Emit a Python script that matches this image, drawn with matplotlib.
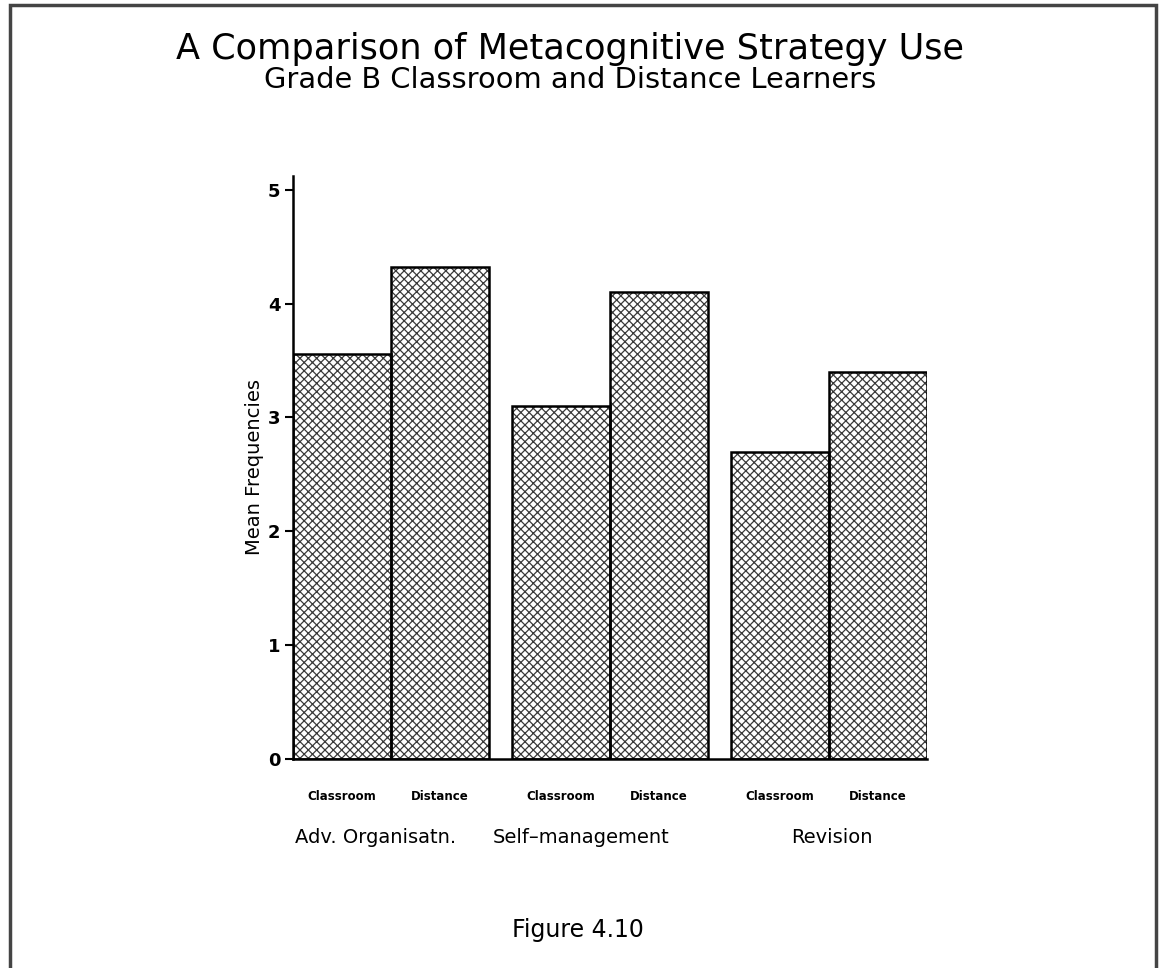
import numpy as np
import matplotlib.pyplot as plt
from matplotlib.patches import Rectangle

# values
groups = ["Adv. Organisatn.", "Self\u2013management", "Revision"]
learners = ["Classroom", "Distance"]
classroom = [3.56, 3.10, 2.70]
distance = [4.32, 4.10, 3.40]
yticks = [0, 1, 2, 3, 4, 5]

plt.rcParams["font.family"] = ["DejaVu Sans"]
plt.rcParams["hatch.linewidth"] = 0.9


def main():
    fig = plt.figure(figsize=(11.63, 9.68), dpi=100)
    ax = fig.add_axes([0.2519, 0.2159, 0.5453, 0.6023])

    x = np.arange(len(groups))
    w = 0.447
    pos = [x - w / 2, x + w / 2]
    for p, vals in zip(pos, [classroom, distance]):
        # hatched fill in grey, then a black outline on top
        ax.bar(p, vals, width=w, color="white", edgecolor="#3a3a3a",
               hatch="xxxx", linewidth=0, zorder=2)
        ax.bar(p, vals, width=w, fill=False, edgecolor="black",
               linewidth=1.8, zorder=3)

    ax.set_xlim(-w, len(groups) - 1 + w)
    ax.set_ylim(0, 5.12)
    ax.set_yticks(yticks)
    ax.set_yticklabels([str(t) for t in yticks], fontsize=13, fontweight="bold")
    ax.tick_params(axis="y", direction="out", length=6, width=1.5, pad=3)
    ax.set_xticks([])
    for s in ["top", "right"]:
        ax.spines[s].set_visible(False)
    ax.spines["left"].set_linewidth(1.8)
    ax.spines["bottom"].set_linewidth(1.8)
    ax.set_ylabel("Mean Frequencies", fontsize=14, labelpad=3)

    # small learner labels under each bar, group names under each pair
    for p, name in zip(pos, learners):
        for xi in p:
            ax.text(xi, -0.33, name, ha="center", va="center", fontsize=8.5,
                    fontweight="bold")
    shift = [-0.07, -0.13, 0.01]
    for xi, g, dx in zip(x, groups, shift):
        ax.text(xi + dx, -0.69, g, ha="center", va="center", fontsize=14)

    fig.text(0.49, 0.949, "A Comparison of Metacognitive Strategy Use",
             ha="center", va="center", fontsize=25.3)
    fig.text(0.49, 0.917, "Grade B Classroom and Distance Learners",
             ha="center", va="center", fontsize=20.8)
    fig.text(0.497, 0.039, "Figure 4.10", ha="center", va="center", fontsize=17)

    # page frame
    frame = Rectangle((10 / 1163, -0.02), 1146 / 1163, 1.02 - 5 / 968,
                      transform=fig.transFigure, fill=False,
                      edgecolor="#444444", linewidth=2.5)
    fig.patches.append(frame)

    fig.savefig("out.png", dpi=100)


if __name__ == "__main__":
    main()
